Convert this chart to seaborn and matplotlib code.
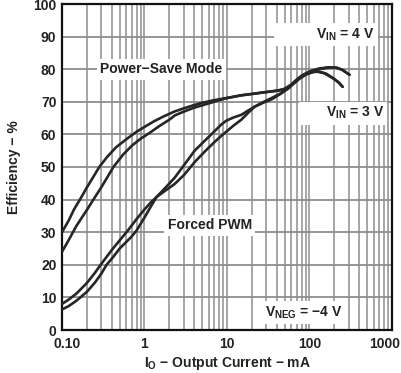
import numpy as np
import pandas as pd
import matplotlib
matplotlib.use("Agg")
import matplotlib.pyplot as plt
import matplotlib.transforms as mtransforms
import seaborn as sns
from matplotlib.ticker import FixedLocator, LogLocator, NullFormatter

# ---- data ----
x_ps_4v = [0.1, 0.12, 0.14, 0.165, 0.2, 0.24, 0.283, 0.35, 0.45, 0.6, 0.8, 1, 1.3, 1.7, 2.3, 3, 4, 5, 7,
           10, 15, 20, 30, 40, 50, 60, 70, 85, 100, 130, 170, 210, 250, 305]
y_ps_4v = [30, 33.5, 37, 40, 43.7, 47, 50, 53, 56, 58.5, 60.8, 62.3, 64, 65.5, 67, 68, 69, 69.7, 70.5,
           71.2, 72, 72.4, 73, 73.4, 74, 75.3, 76.8, 78.3, 79.2, 80, 80.5, 80.5, 79.8, 78.3]

x_ps_3v = [0.1, 0.12, 0.15, 0.2, 0.24, 0.3, 0.42, 0.55, 0.7, 0.9, 1.16, 1.5, 2, 2.32, 3, 4, 6, 9.4,
           15, 20, 30, 47, 60, 75, 90, 110, 130, 160, 200, 230, 252]
y_ps_3v = [24, 27.5, 32, 36.8, 40, 43.8, 50, 53.8, 56.5, 58.7, 60.5, 62.5, 64.5, 65.8, 67, 68.2, 69.5, 71,
           72, 72.4, 73, 73.6, 75, 77, 78.3, 79.1, 79.3, 78.6, 77, 75.7, 74.6]

x_pwm_3v = [0.1, 0.12, 0.15, 0.2, 0.25, 0.3, 0.4, 0.5, 0.605, 0.8, 1.0, 1.2, 1.4, 1.8, 2.32, 3, 4.05,
            5.5, 7.08, 8.5, 10.2, 12, 14.9, 18, 21.6, 28, 35, 45, 55, 65, 80, 100, 120, 150, 190, 225, 252]
y_pwm_3v = [8, 9.3, 11.2, 14.4, 17.5, 20.3, 24.5, 27.5, 30, 34, 37, 39.2, 40.8, 42.8, 44.8, 47.5, 51.5,
            55, 57.7, 59.5, 61.2, 62.7, 64.5, 66.6, 68.5, 70, 71.2, 72.6, 74, 75.7, 77.8, 79, 79.3, 78.8, 77.3, 76, 74.6]

x_pwm_4v = [0.1, 0.12, 0.15, 0.2, 0.25, 0.3, 0.347, 0.42, 0.5, 0.6, 0.7, 0.8, 1.0, 1.2, 1.4, 1.8, 2.32,
            3, 4.05, 5.5, 7.08, 8.5, 9.8, 12, 14.9, 18, 21.6, 28, 35, 45, 55, 65, 80, 100, 130, 170, 210, 250, 305]
y_pwm_4v = [6.3, 7.3, 9, 11.7, 14.5, 17.3, 20, 22.5, 25, 27, 28.7, 30.5, 34.5, 38, 40.8, 43.7, 46.7,
            50.5, 55, 58.3, 61, 63, 64.2, 65.2, 66, 67.3, 68.5, 69.8, 70.8, 72.5, 74.2, 76, 78, 79.3, 80.2, 80.6, 80.5, 79.8, 78.3]

x_ticks = [0.1, 1, 10, 100, 1000]
x_tick_labels = ["0.10", "1", "10", "100", "1000"]
y_ticks = list(range(0, 101, 10))

sns.set_style("white")
plt.rcParams["font.family"] = ["Liberation Sans", "DejaVu Sans"]
plt.rcParams["font.weight"] = "bold"
plt.rcParams["mathtext.fontset"] = "custom"
plt.rcParams["mathtext.rm"] = "Liberation Sans:bold"
plt.rcParams["mathtext.default"] = "rm"

frames = []
for name, xs, ys in [("ps4", x_ps_4v, y_ps_4v), ("ps3", x_ps_3v, y_ps_3v),
                     ("pwm3", x_pwm_3v, y_pwm_3v), ("pwm4", x_pwm_4v, y_pwm_4v)]:
    frames.append(pd.DataFrame({"I": xs, "eff": ys, "curve": name}))
df = pd.concat(frames, ignore_index=True)

fig = plt.figure(figsize=(4.02, 3.73), dpi=100)
ax = fig.add_axes([62 / 402, 43 / 373, 330 / 402, 326 / 373])

ax.set_xscale("log")
ax.set_xlim(0.1, 1000)
ax.set_ylim(0, 100)

# grid
ax.xaxis.set_major_locator(FixedLocator(x_ticks))
ax.xaxis.set_minor_locator(LogLocator(base=10, subs=np.arange(2, 10)))
ax.xaxis.set_minor_formatter(NullFormatter())
ax.set_yticks(y_ticks)
ax.grid(True, which="both", axis="x", color="#8e8e8e", lw=1.1)
ax.grid(True, which="major", axis="y", color="#8e8e8e", lw=1.3)
ax.set_axisbelow(True)

for curve in ["ps4", "ps3", "pwm3", "pwm4"]:
    sub = df[df["curve"] == curve]
    sns.lineplot(data=sub, x="I", y="eff", ax=ax, color="#262626", lw=1.9,
                 estimator=None, sort=False, legend=False, zorder=3)

ax.set_xticklabels(x_tick_labels)
ax.tick_params(axis="both", which="both", length=0, labelsize=10, pad=4)
ax.tick_params(axis="x", pad=5)
for lab in ax.get_xticklabels() + ax.get_yticklabels():
    lab.set_fontweight("bold")
    lab.set_color("#222222")
xl = ax.get_xticklabels()
xl[0].set_transform(xl[0].get_transform() + mtransforms.ScaledTranslation(5 / 100, 0, fig.dpi_scale_trans))
xl[-1].set_transform(xl[-1].get_transform() + mtransforms.ScaledTranslation(-7 / 100, 0, fig.dpi_scale_trans))

ax.set_xlabel(r"I$_\mathrm{O}$ $-$ Output Current $-$ mA", fontsize=10,
              fontweight="bold", labelpad=3, color="#222222")
ax.set_ylabel("Efficiency − %", fontsize=10, fontweight="bold", labelpad=9,
              color="#222222")

for sp in ax.spines.values():
    sp.set_visible(True)
    sp.set_color("#111111")
    sp.set_linewidth(1.6)

box = dict(facecolor="white", edgecolor="none", pad=2.5)
tkw = dict(fontsize=10, fontweight="bold", color="#222222", zorder=4,
           va="center", bbox=box)
ax.text(0.29, 80, "Power−Save Mode", ha="left", **tkw)
ax.text(610, 90.6, r"          V$_{IN}$ = 4 V", ha="right", **tkw)
ax.text(800, 66.5, r"      V$_{IN}$ = 3 V", ha="right", **tkw)
ax.text(1.91, 32.2, "Forced PWM", ha="left", **tkw)
ax.text(28.5, 5.3, r"V$_{NEG}$ = −4 V", ha="left", **tkw)

fig.savefig("out.png", dpi=100)
